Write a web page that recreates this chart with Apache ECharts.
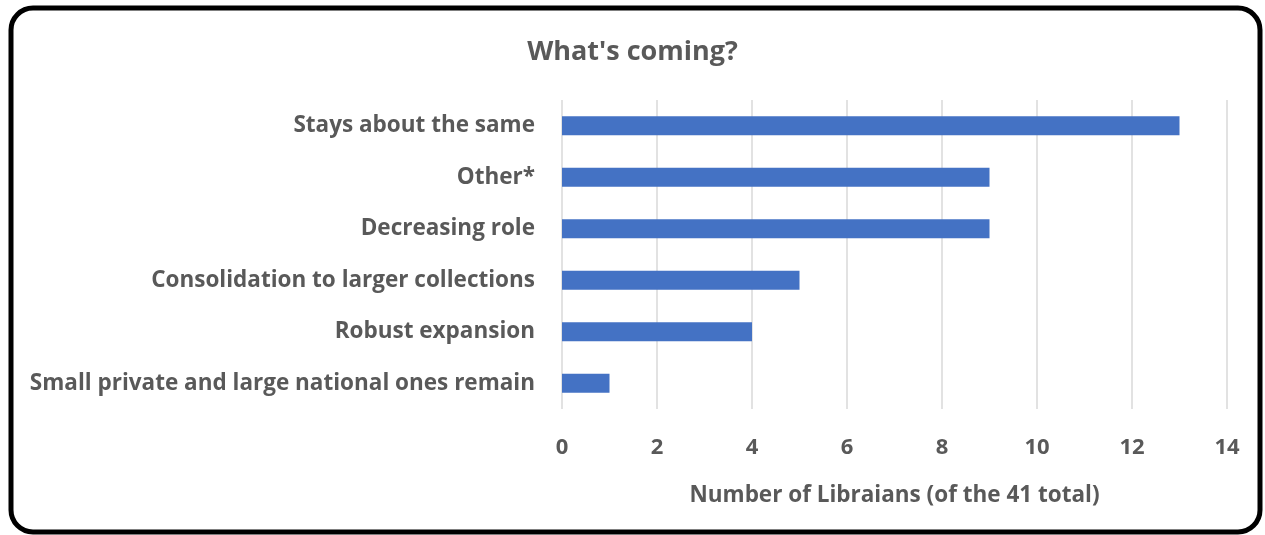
<!DOCTYPE html>
<html>
<head>
<meta charset="utf-8">
<script src="https://cdn.jsdelivr.net/npm/echarts@6/dist/echarts.min.js"></script>
<style>
html,body{margin:0;padding:0;background:#fff;}
#chart{width:1265px;height:535px;}
</style>
</head>
<body>
<div id="chart"></div>
<script>
var titleText = "What's coming?";
var categories = ["Stays about the same", "Other*", "Decreasing role", "Consolidation to larger collections", "Robust expansion", "Small private and large national ones remain"];
var values = [13, 9, 9, 5, 4, 1];
var xAxisName = "Number of Libraians (of the 41 total)";

var chart = echarts.init(document.getElementById('chart'));
var fontFam = "'Open Sans', 'Noto Sans', sans-serif";
chart.setOption({
  animation: false,
  title: {
    text: titleText,
    left: 'center',
    top: 34,
    textStyle: {color: '#595959', fontSize: 27, fontWeight: 'bold', fontFamily: fontFam}
  },
  graphic: [{
    type: 'rect',
    shape: {x: 11, y: 8, width: 1249, height: 524, r: 22},
    style: {fill: 'none', stroke: '#000', lineWidth: 5},
    z: 100
  }],
  grid: {left: 562, right: 38, top: 100, bottom: 126},
  xAxis: {
    type: 'value',
    min: 0, max: 14, interval: 2,
    axisLine: {show: false},
    axisTick: {show: false},
    splitLine: {lineStyle: {color: '#d9d9d9', width: 1.5}},
    axisLabel: {color: '#595959', fontSize: 22, fontWeight: 'bold', fontFamily: fontFam, margin: 28},
    name: xAxisName,
    nameLocation: 'middle',
    nameGap: 75,
    nameTextStyle: {color: '#595959', fontSize: 22.5, fontWeight: 'bold', fontFamily: fontFam}
  },
  yAxis: {
    type: 'category',
    data: categories,
    inverse: true,
    axisLine: {show: false},
    axisTick: {show: false},
    axisLabel: {color: '#595959', fontSize: 22.5, fontWeight: 'bold', fontFamily: fontFam, margin: 27}
  },
  series: [{
    type: 'bar',
    data: values,
    barWidth: 19,
    itemStyle: {color: '#4472C4'}
  }]
});
</script>
</body>
</html>
